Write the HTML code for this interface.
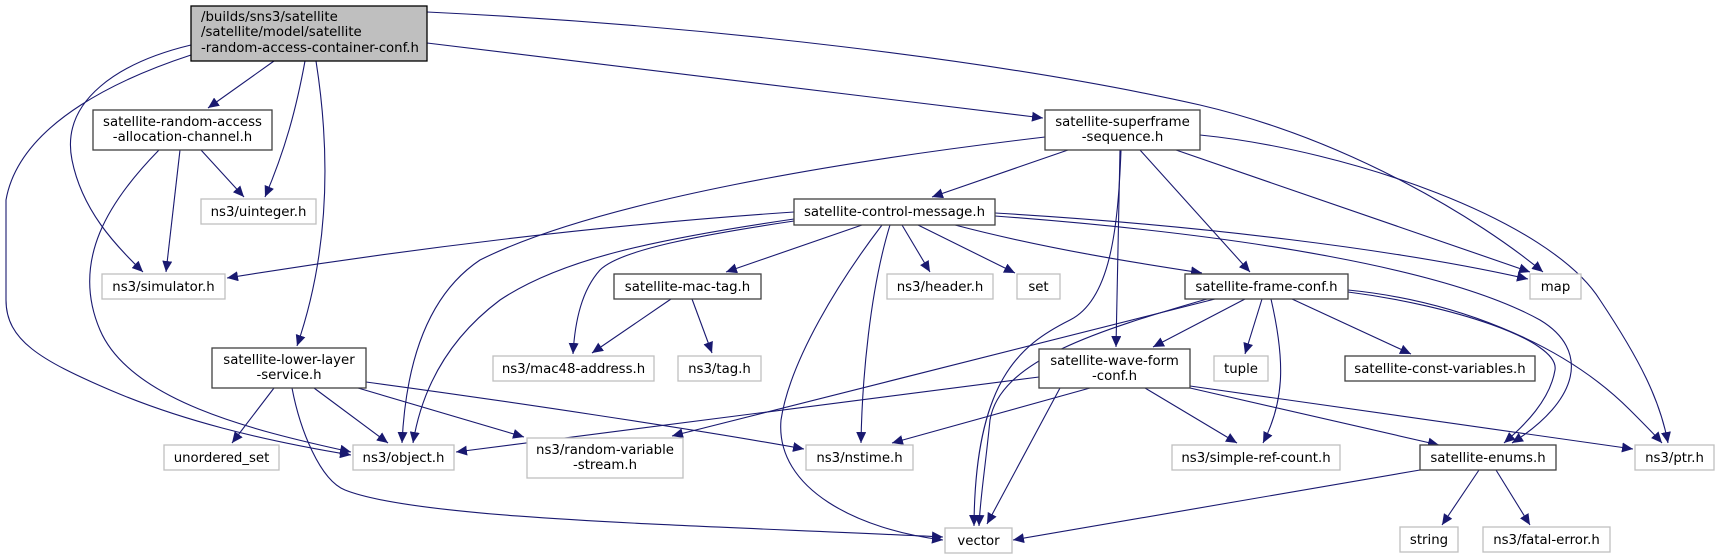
<!DOCTYPE html>
<html><head><meta charset="utf-8"><style>
html,body{margin:0;padding:0;background:#fff;}
svg{display:block;}
text{font-family:"DejaVu Sans","Liberation Sans",sans-serif;font-size:13.3px;fill:#000;}
.n{fill:#fff;stroke:#404040;stroke-width:1.3;}
.g{fill:#fff;stroke:#bfbfbf;stroke-width:1.3;}
.e{fill:none;stroke:#191970;stroke-width:1.1;}
</style></head><body>
<svg width="1719" height="559" viewBox="0 0 1719 559" xmlns="http://www.w3.org/2000/svg">
<defs><marker id="a" markerUnits="userSpaceOnUse" markerWidth="12" markerHeight="10" refX="11" refY="5" orient="auto"><path d="M0,0 L11,5 L0,10 z" fill="#191970"/></marker></defs>
<g class="e" marker-end="url(#a)">
<path d="M274,61 L208,108"/>
<path d="M305,61 C296,110 285,150 265,197"/>
<path d="M316,61 C330,150 330,250 297,346"/>
<path d="M191,45 C120,62 60,100 72,160 C82,210 115,245 143,272"/>
<path d="M191,55 C130,75 20,120 6,200 L6,300 C6,340 40,360 110,390 C180,420 260,440 351,455"/>
<path d="M427,43 L1043,118"/>
<path d="M427,12 C700,25 1000,60 1200,105 C1350,140 1480,220 1543,272"/>
<path d="M201,150 L244,197"/>
<path d="M180,150 L166,272"/>
<path d="M159,150 C110,200 70,260 100,330 C130,400 250,430 351,452"/>
<path d="M274,388 L232,443"/>
<path d="M314,388 L388,443"/>
<path d="M358,388 L524,437"/>
<path d="M366,382 C500,400 700,430 804,449"/>
<path d="M292,388 C300,430 320,480 345,490 C420,520 700,525 943,537"/>
<path d="M1045,137 C850,160 600,200 480,260 C420,300 405,380 402,443"/>
<path d="M1068,150 L932,197"/>
<path d="M1121,150 C1118,230 1110,300 1070,320 C1020,345 975,380 974,526"/>
<path d="M1120,150 L1116,347"/>
<path d="M1140,150 L1250,272"/>
<path d="M1176,150 L1530,272"/>
<path d="M1200,135 C1350,150 1550,220 1600,300 C1640,360 1660,400 1668,443"/>
<path d="M794,212 C600,225 400,250 227,278"/>
<path d="M794,219 C650,240 560,260 500,300 C440,345 420,400 413,443"/>
<path d="M794,221 C700,235 620,250 600,270 C582,290 575,320 573,354"/>
<path d="M862,225 L726,272"/>
<path d="M882,225 C840,280 790,360 781,420 C775,490 860,530 943,540"/>
<path d="M890,225 C870,290 862,380 861,443"/>
<path d="M902,225 L930,272"/>
<path d="M918,225 L1015,273"/>
<path d="M955,225 C1050,250 1150,265 1202,273"/>
<path d="M995,213 C1200,225 1400,250 1528,279"/>
<path d="M995,216 C1250,235 1450,270 1540,320 C1590,350 1580,400 1512,443"/>
<path d="M1348,292 C1450,305 1560,340 1555,370 C1550,400 1525,425 1504,443"/>
<path d="M1348,290 C1450,300 1560,340 1630,410 C1645,425 1655,435 1662,443"/>
<path d="M1190,386 L1633,449"/>
<path d="M1190,388 L1439,445"/>
<path d="M1145,388 L1237,443"/>
<path d="M1090,388 L892,443"/>
<path d="M1060,388 L987,524"/>
<path d="M1039,377 L456,452"/>
<path d="M1215,299 L672,436"/>
<path d="M1207,299 C1100,330 1000,360 990,420 C985,470 980,500 979,526"/>
<path d="M1245,299 L1153,347"/>
<path d="M1262,299 L1245,354"/>
<path d="M1271,299 C1285,360 1285,400 1263,443"/>
<path d="M1292,299 L1411,354"/>
<path d="M671,299 L592,353"/>
<path d="M692,299 L712,353"/>
<path d="M1420,470 L1013,540"/>
<path d="M1479,470 L1442,525"/>
<path d="M1496,470 L1530,525"/>
</g>
<rect x="191" y="6" width="236" height="55" fill="#bfbfbf" stroke="#000" stroke-width="1.3"/>
<text x="201" y="21">/builds/sns3/satellite</text>
<text x="201" y="36">/satellite/model/satellite</text>
<text x="201" y="52">-random-access-container-conf.h</text>
<rect class="n" x="93" y="110" width="179" height="40"/>
<text x="182.5" y="126" text-anchor="middle">satellite-random-access</text>
<text x="182.5" y="141" text-anchor="middle">-allocation-channel.h</text>
<rect class="g" x="201" y="199" width="115" height="25"/><text x="258.5" y="216" text-anchor="middle">ns3/uinteger.h</text>
<rect class="g" x="102" y="274" width="123" height="25"/><text x="163.5" y="291" text-anchor="middle">ns3/simulator.h</text>
<rect class="n" x="212" y="348" width="154" height="40"/>
<text x="289" y="364" text-anchor="middle">satellite-lower-layer</text>
<text x="289" y="379" text-anchor="middle">-service.h</text>
<rect class="g" x="164" y="445" width="115" height="25"/><text x="221.5" y="462" text-anchor="middle">unordered_set</text>
<rect class="g" x="353" y="445" width="101" height="25"/><text x="403.5" y="462" text-anchor="middle">ns3/object.h</text>
<rect class="g" x="527" y="438" width="156" height="40"/>
<text x="605" y="454" text-anchor="middle">ns3/random-variable</text>
<text x="605" y="469" text-anchor="middle">-stream.h</text>
<rect class="g" x="806" y="445" width="107" height="25"/><text x="859.5" y="462" text-anchor="middle">ns3/nstime.h</text>
<rect class="g" x="945" y="528" width="67" height="25"/><text x="978.5" y="545" text-anchor="middle">vector</text>
<rect class="n" x="1045" y="110" width="155" height="40"/>
<text x="1122.5" y="126" text-anchor="middle">satellite-superframe</text>
<text x="1122.5" y="141" text-anchor="middle">-sequence.h</text>
<rect class="n" x="794" y="199" width="201" height="26"/><text x="894.5" y="216" text-anchor="middle">satellite-control-message.h</text>
<rect class="n" x="614" y="274" width="147" height="25"/><text x="687.5" y="291" text-anchor="middle">satellite-mac-tag.h</text>
<rect class="g" x="887" y="274" width="106" height="25"/><text x="940" y="291" text-anchor="middle">ns3/header.h</text>
<rect class="g" x="1017" y="274" width="43" height="25"/><text x="1038.5" y="291" text-anchor="middle">set</text>
<rect class="g" x="493" y="356" width="161" height="25"/><text x="573.5" y="373" text-anchor="middle">ns3/mac48-address.h</text>
<rect class="g" x="678" y="356" width="83" height="25"/><text x="719.5" y="373" text-anchor="middle">ns3/tag.h</text>
<rect class="n" x="1039" y="349" width="151" height="39"/>
<text x="1114.5" y="365" text-anchor="middle">satellite-wave-form</text>
<text x="1114.5" y="380" text-anchor="middle">-conf.h</text>
<rect class="n" x="1185" y="274" width="163" height="25"/><text x="1266.5" y="291" text-anchor="middle">satellite-frame-conf.h</text>
<rect class="g" x="1530" y="274" width="51" height="25"/><text x="1555.5" y="291" text-anchor="middle">map</text>
<rect class="g" x="1214" y="356" width="54" height="25"/><text x="1241" y="373" text-anchor="middle">tuple</text>
<rect class="n" x="1345" y="356" width="190" height="25"/><text x="1440" y="373" text-anchor="middle">satellite-const-variables.h</text>
<rect class="g" x="1172" y="445" width="168" height="25"/><text x="1256" y="462" text-anchor="middle">ns3/simple-ref-count.h</text>
<rect class="n" x="1420" y="445" width="136" height="25"/><text x="1488" y="462" text-anchor="middle">satellite-enums.h</text>
<rect class="g" x="1635" y="445" width="79" height="25"/><text x="1674.5" y="462" text-anchor="middle">ns3/ptr.h</text>
<rect class="g" x="1400" y="527" width="58" height="25"/><text x="1429" y="544" text-anchor="middle">string</text>
<rect class="g" x="1483" y="527" width="127" height="25"/><text x="1546.5" y="544" text-anchor="middle">ns3/fatal-error.h</text>
</svg>
</body></html>
